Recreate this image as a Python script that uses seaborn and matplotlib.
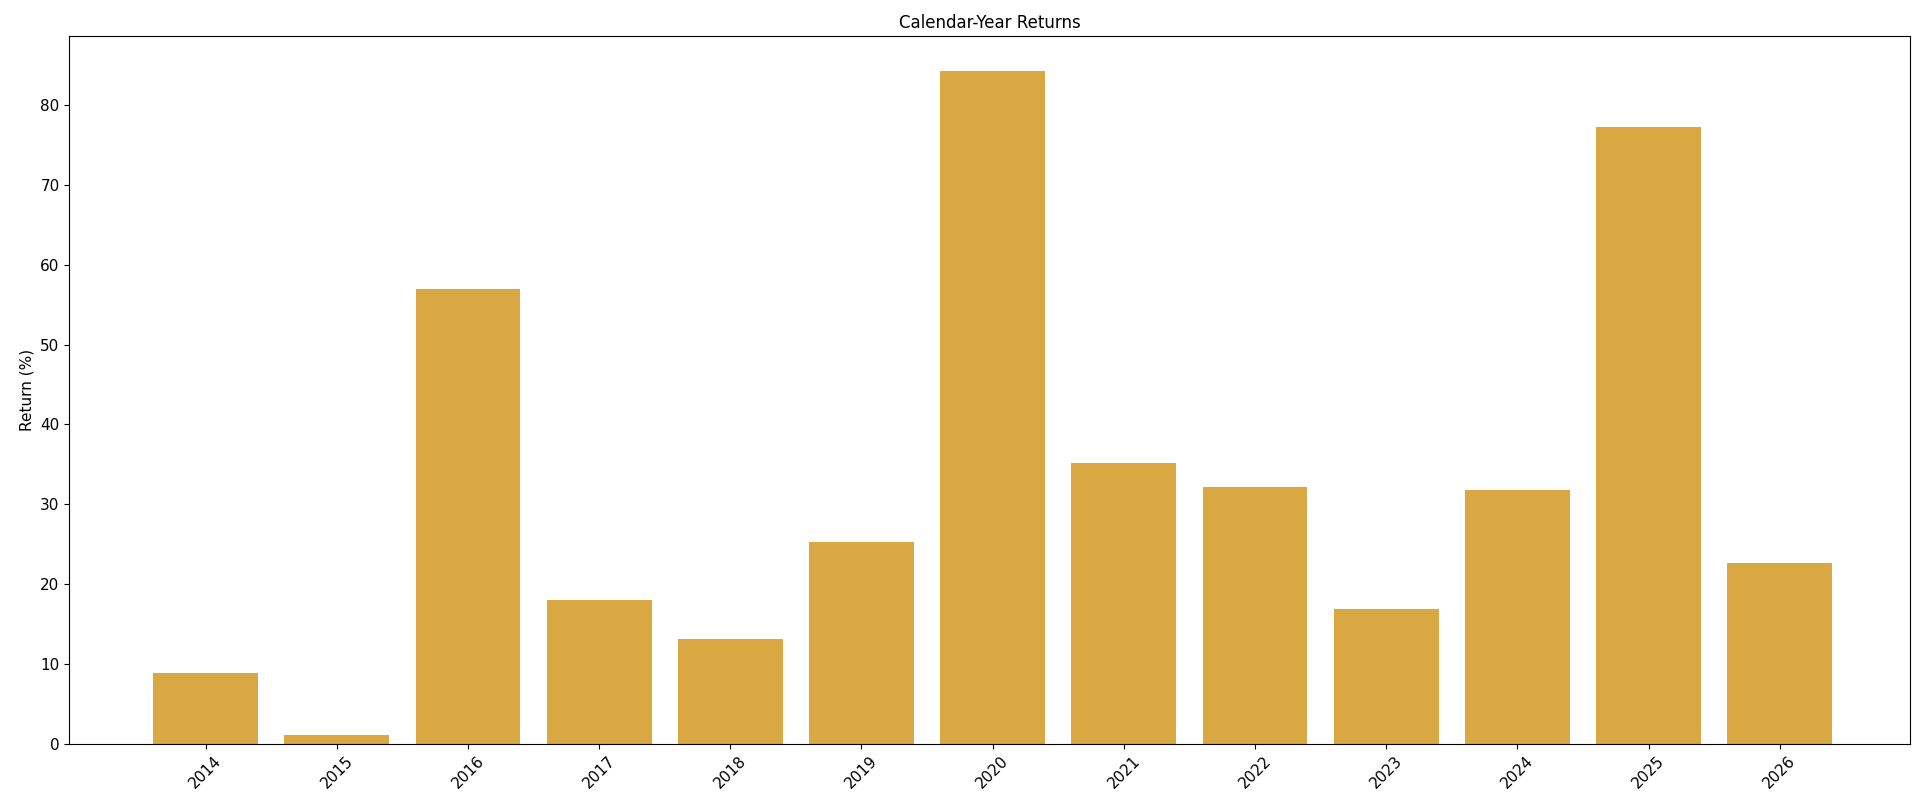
import matplotlib
matplotlib.use("Agg")
import matplotlib.pyplot as plt
import seaborn as sns
import pandas as pd

# Calendar-year returns
years = ["2014", "2015", "2016", "2017", "2018", "2019", "2020",
         "2021", "2022", "2023", "2024", "2025", "2026"]
returns = [8.8, 1.1, 56.9, 18.0, 13.1, 25.2, 84.3,
           35.1, 32.2, 16.9, 31.8, 77.3, 22.6]

df = pd.DataFrame({"year": years, "ret": returns})

fig, ax = plt.subplots(figsize=(19.23, 8.1), dpi=100)
sns.barplot(data=df, x="year", y="ret", color="#D9A843", saturation=1,
            width=0.8, ax=ax)

ax.set_title("Calendar-Year Returns", fontsize=12)
ax.set_xlabel("")
ax.set_ylabel("Return (%)", fontsize=11)
ax.tick_params(axis="both", labelsize=11)
plt.setp(ax.get_xticklabels(), rotation=45)
ax.set_xlim(-1.04, 12.99)
ax.set_ylim(0, 88.6)

plt.subplots_adjust(left=0.036, right=0.993, top=0.955, bottom=0.082)
plt.savefig("out.png", dpi=100)
